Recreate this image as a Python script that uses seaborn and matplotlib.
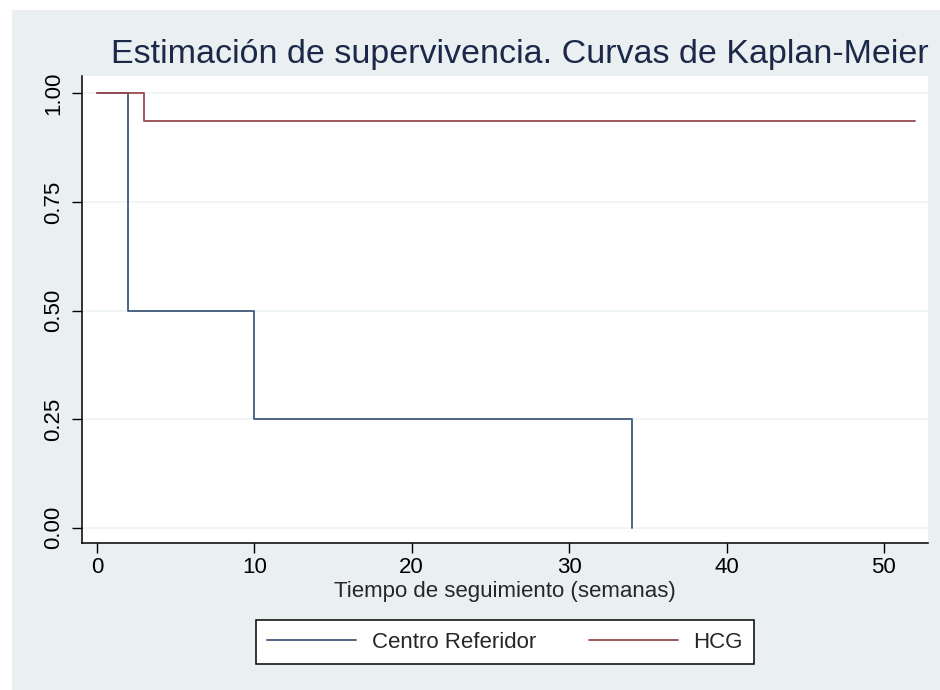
import numpy as np
import pandas as pd
import matplotlib
matplotlib.use("Agg")
import matplotlib.pyplot as plt
import seaborn as sns
from matplotlib.patches import Rectangle

# ---- datos (Kaplan-Meier, funciones escalonadas) ----
grupos = ["Centro Referidor", "HCG"]
tiempo_cr = [0, 2, 10, 34]
surv_cr = [1.0, 0.5, 0.25, 0.0]
tiempo_hcg = [0, 3, 52]
surv_hcg = [1.0, 0.9375, 0.9375]

xticks = [0, 10, 20, 30, 40, 50]
yticks = [0.0, 0.25, 0.50, 0.75, 1.00]
ytick_labels = ["0.00", "0.25", "0.50", "0.75", "1.00"]

df = pd.concat([
    pd.DataFrame({"t": tiempo_cr, "s": surv_cr, "grupo": grupos[0]}),
    pd.DataFrame({"t": tiempo_hcg, "s": surv_hcg, "grupo": grupos[1]}),
], ignore_index=True)

# ---- estilo ----
sns.set_style("white")
plt.rcParams["font.family"] = ["Liberation Sans", "DejaVu Sans"]
fondo = "#eaf0f2"
navy = "#3f5a78"
maroon = "#9a4a52"
titulo_col = "#1c2848"
fs = 16

fig = plt.figure(figsize=(9.4, 6.9), dpi=100)
fig.patch.set_facecolor("white")
# fondo gris-azulado (recorte de pantalla con borde blanco arriba/izquierda)
fig.patches.append(Rectangle((12 / 940, 0), 1, 1 - 10 / 690, transform=fig.transFigure,
                             facecolor=fondo, edgecolor="none", zorder=-10))

ax = fig.add_axes([82 / 940, 1 - 543 / 690, (928 - 82) / 940, (543 - 76) / 690])
ax.set_facecolor("white")

sns.lineplot(data=df, x="t", y="s", hue="grupo", palette=[navy, maroon],
             drawstyle="steps-post", estimator=None, sort=False,
             linewidth=1.3, ax=ax, legend=False)

ax.set_xlim(-0.95, 52.8)
ax.set_ylim(-0.035, 1.04)
ax.set_xticks(xticks)
ax.set_yticks(yticks)
ax.set_yticklabels(ytick_labels, rotation=90, va="center")
ax.tick_params(axis="both", direction="out", length=7, width=1, color="black",
               labelsize=fs, labelcolor="black", bottom=True, left=True)
ax.tick_params(axis="x", pad=3)
ax.tick_params(axis="y", pad=6)
for y in yticks:
    ax.axhline(y, color="#eef3f4", linewidth=1.2, zorder=0)

for s in ["top", "right"]:
    ax.spines[s].set_visible(False)
for s in ["left", "bottom"]:
    ax.spines[s].set_color("black")
    ax.spines[s].set_linewidth(1.1)

ax.set_xlabel("Tiempo de seguimiento (semanas)", fontsize=fs, labelpad=2)
ax.set_ylabel("")

fig.text(520 / 940, 1 - 63 / 690, "Estimación de supervivencia. Curvas de Kaplan-Meier",
         ha="center", va="baseline", fontsize=24.5, color=titulo_col)

handles = [plt.Line2D([], [], color=navy, linewidth=1.3),
           plt.Line2D([], [], color=maroon, linewidth=1.3)]
leg = fig.legend(handles, grupos, loc="center", bbox_to_anchor=(505 / 940, 1 - 642 / 690),
                 ncol=2, fontsize=fs, handlelength=4.0, columnspacing=2.4,
                 handletextpad=0.7, frameon=True, fancybox=False, borderpad=0.5,
                 framealpha=1)
leg.get_frame().set_edgecolor("black")
leg.get_frame().set_linewidth(1.1)
leg.get_frame().set_facecolor("white")

fig.savefig("out.png", dpi=100)
